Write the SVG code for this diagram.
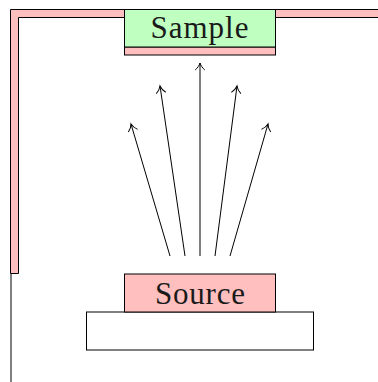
<svg xmlns="http://www.w3.org/2000/svg" width="378" height="382" viewBox="0 0 378 382">
<style>
.b{stroke:#000;stroke-width:1}
.p{fill:#ffbfbf}
.g{fill:#bfffbf}
.w{fill:#fff}
.a{fill:none;stroke:#000;stroke-width:1;marker-end:url(#h)}
text{font-family:"Liberation Serif","Times New Roman",serif;font-size:31px;text-anchor:middle;fill:#1a1a1a}
</style>
<defs>
<marker id="h" markerUnits="userSpaceOnUse" markerWidth="16" markerHeight="14" refX="10" refY="7" orient="auto">
<path d="M3 2.2C5 4.5 7.5 6.3 10 7C7.5 7.7 5 9.5 3 11.8" fill="none" stroke="#000" stroke-width="1"/>
</marker>
</defs>
<g id="wall">
<line x1="11" y1="274" x2="11" y2="382" stroke="#000" stroke-width="1"/>
<path class="p b" d="M378 9.5H10.5V273.5H18.5V17.5H378"/>
</g>
<g id="base"><rect class="w b" x="86.5" y="312" width="227" height="38"/></g>
<g id="source"><rect class="p b" x="124.5" y="274" width="151" height="38"/><text x="200" y="304" textLength="90">Source</text></g>
<g id="sample"><rect class="p b" x="124.5" y="47" width="151" height="8"/><rect class="g b" x="124.5" y="9.5" width="151" height="37.5"/><text x="199.500" y="37.500" textLength="98">Sample</text></g>
<g id="connectors">
<line class="a" x1="170" y1="256" x2="131" y2="124"/>
<line class="a" x1="185" y1="256" x2="160" y2="86"/>
<line class="a" x1="200" y1="256" x2="200" y2="63"/>
<line class="a" x1="215" y1="256" x2="237" y2="86"/>
<line class="a" x1="230" y1="256" x2="268" y2="124"/>
</g>
</svg>
